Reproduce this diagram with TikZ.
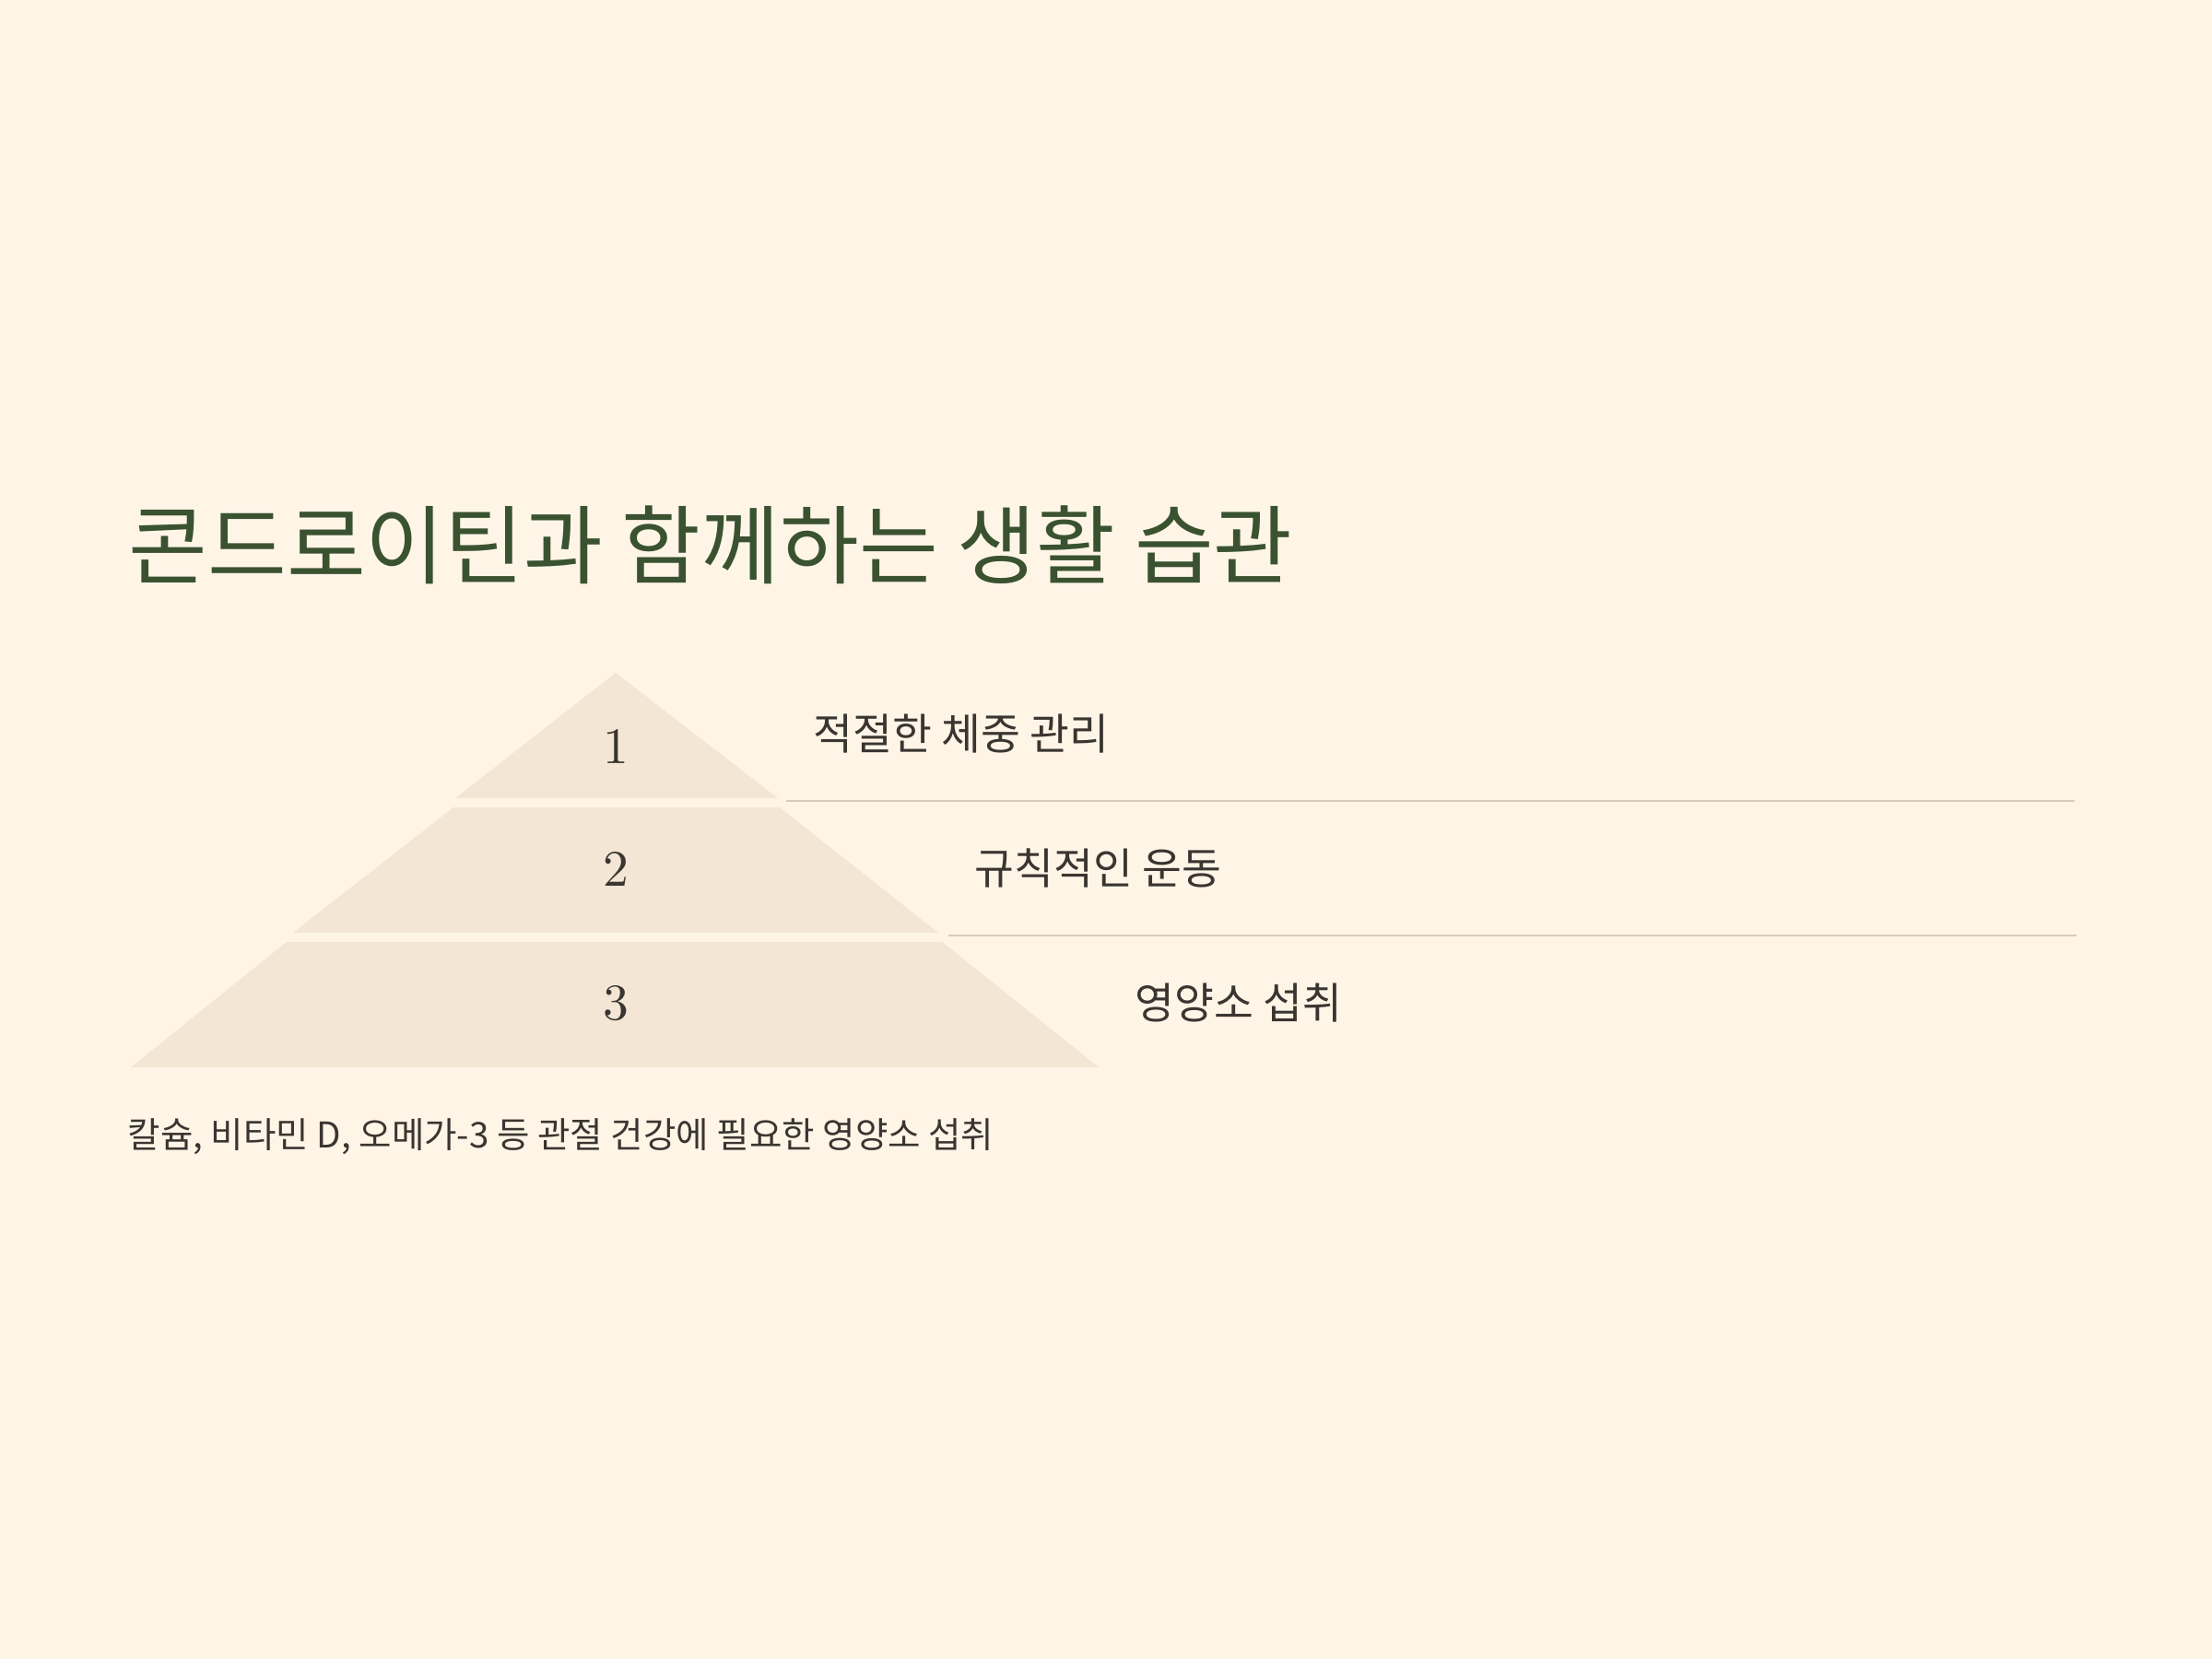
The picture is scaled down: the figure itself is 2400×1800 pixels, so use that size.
\documentclass[tikz,border=0pt]{standalone}
\usepackage{fontspec}
\newfontfamily\krfont{Noto Sans CJK KR}
\newfontfamily\numfont{lmroman10-regular}[Extension=.otf]
\definecolor{cream bg}{HTML}{FEF5E7}
\definecolor{tier beige}{HTML}{F3E6D4}
\definecolor{rule taupe}{HTML}{D8CCB8}
\definecolor{title green}{HTML}{3A5230}
\definecolor{ink brown}{HTML}{3A3530}
\tikzset{
  tier/.style={fill=tier beige},
  rule line/.style={draw=rule taupe, line width=0.57pt},
  title text/.style={anchor=west, inner sep=0pt, text=title green, font=\krfont\fontsize{26.5}{30}\selectfont},
  tier number/.style={inner sep=0pt, text=ink brown, font=\numfont\fontsize{15.8}{18}\selectfont},
  tier label/.style={anchor=west, inner sep=0pt, text=ink brown, font=\krfont\fontsize{13.25}{16}\selectfont},
  note text/.style={anchor=west, inner sep=0pt, text=ink brown, font=\krfont\fontsize{10.95}{13}\selectfont},
}
\begin{document}
\begin{tikzpicture}[x=0.01cm,y=-0.01cm]
        \fill[cream bg] (0,0) rectangle (2400,1800);
        \useasboundingbox (0,0) rectangle (2400,1800);

        \node[title text] (title) at (139,591) {콘드로이틴과 함께하는 생활 습관};

        % pyramid, top to bottom
        \fill[tier] (668,730) -- (844,866) -- (494,866) -- cycle;
        \fill[tier] (492,876) -- (846,876) -- (1018,1012) -- (318,1012) -- cycle;
        \fill[tier] (311,1022) -- (1022,1022) -- (1192,1158) -- (142,1158) -- cycle;

        \node[tier number] (n1) at (668,810) {1};
        \node[tier number] (n2) at (668,943) {2};
        \node[tier number] (n3) at (668,1089) {3};

        \draw[rule line] (853,869) -- (2251,869);
        \draw[rule line] (1029,1015) -- (2253,1015);

        \node[tier label] (l1) at (882,796) {적절한 체중 관리};
        \node[tier label] (l2) at (1057,942) {규칙적인 운동};
        \node[tier label] (l3) at (1231,1088) {영양소 섭취};

        \node[note text] (note) at (138,1233) {칼슘, 비타민 D, 오메가-3 등 관절 건강에 필요한 영양소 섭취};
\end{tikzpicture}
\end{document}
